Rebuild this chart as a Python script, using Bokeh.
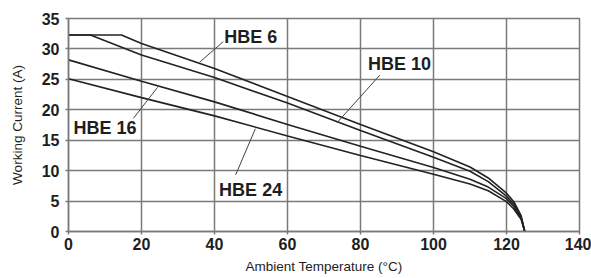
from bokeh.plotting import figure
from bokeh.models import FixedTicker, Range1d
from bokeh.core.properties import value
from bokeh.embed import file_html
from bokeh.resources import INLINE

# Ambient temperature (°C) vs working current (A)
hbe6_t = [0, 14.5, 20, 40, 60, 80, 100, 110, 115, 120, 122, 124, 125]
hbe6_i = [32.3, 32.3, 30.9, 26.8, 22.2, 17.6, 13.1, 10.6, 8.8, 6.3, 4.9, 2.6, 0]

hbe10_t = [0, 6, 20, 40, 60, 80, 100, 110, 115, 120, 122, 124, 125]
hbe10_i = [32.3, 32.3, 29.0, 25.3, 21.1, 16.6, 12.2, 9.9, 8.2, 5.8, 4.5, 2.4, 0]

hbe16_t = [0, 20, 40, 60, 80, 100, 110, 115, 120, 122, 124, 125]
hbe16_i = [28.2, 24.7, 21.3, 17.6, 14.0, 10.5, 8.6, 7.3, 5.4, 4.1, 2.2, 0]

hbe24_t = [0, 20, 40, 60, 80, 100, 110, 115, 120, 122, 124, 125]
hbe24_i = [25.1, 22.0, 19.0, 15.7, 12.5, 9.4, 7.8, 6.7, 4.9, 3.7, 2.0, 0]

x_ticks = [0, 20, 40, 60, 80, 100, 120, 140]
y_ticks = [0, 5, 10, 15, 20, 25, 30, 35]

# curve labels and their leader lines (annotation placement)
label_names = ["HBE 6", "HBE 10", "HBE 16", "HBE 24"]
label_x = [49.9, 90.7, 10.0, 49.9]
label_y = [32.0, 27.6, 17.0, 6.9]
leader_x0 = [42.4, 85.3, 17.8, 45.8]
leader_y0 = [31.2, 25.7, 18.6, 9.3]
leader_x1 = [35.9, 73.6, 24.4, 51.2]
leader_y1 = [27.8, 17.9, 23.7, 16.9]

p = figure(width=591, height=278, output_backend="svg", toolbar_location=None,
           x_range=Range1d(0, 140), y_range=Range1d(0, 35),
           min_border_left=68, min_border_right=12, min_border_top=18, min_border_bottom=47)

grid_color = "#7a7a7a"
p.outline_line_color = grid_color
p.outline_line_width = 1.5

for ax in (p.xaxis[0], p.yaxis[0]):
    ax.major_label_text_font = "Liberation Sans"
    ax.major_label_text_font_style = "bold"
    ax.major_label_text_font_size = "16px"
    ax.major_label_text_color = "#1e1e1e"
    ax.axis_label_text_font = "Liberation Sans"
    ax.axis_label_text_font_style = "normal"
    ax.axis_label_text_font_size = "13.5px"
    ax.axis_label_text_color = "#1e1e1e"
    ax.axis_line_color = grid_color
    ax.axis_line_width = 1.5
    ax.major_tick_line_color = grid_color
    ax.major_tick_line_width = 1.5
    ax.major_tick_out = 3
    ax.major_tick_in = 0
    ax.minor_tick_line_color = None

p.xaxis.ticker = FixedTicker(ticks=x_ticks)
p.yaxis.ticker = FixedTicker(ticks=y_ticks)
p.xaxis.axis_label = "Ambient Temperature (°C)"
p.yaxis.axis_label = "Working Current (A)"
p.xaxis.major_label_standoff = 3
p.yaxis.major_label_standoff = 6
p.xaxis.axis_label_standoff = 6
p.yaxis.axis_label_standoff = 14

p.xgrid.ticker = FixedTicker(ticks=x_ticks)
p.ygrid.ticker = FixedTicker(ticks=y_ticks)
for g in (p.xgrid[0], p.ygrid[0]):
    g.grid_line_color = grid_color
    g.grid_line_alpha = 1.0
    g.grid_line_width = 1.5

curve_color = "#222222"
for t, i in [(hbe6_t, hbe6_i), (hbe10_t, hbe10_i), (hbe16_t, hbe16_i), (hbe24_t, hbe24_i)]:
    p.line(t, i, line_color=curve_color, line_width=1.6)

p.segment(x0=leader_x0, y0=leader_y0, x1=leader_x1, y1=leader_y1,
          line_color="#444444", line_width=1)

p.text(x=label_x, y=label_y, text=label_names,
       text_font=value("Liberation Sans"), text_font_style="bold",
       text_font_size="18px", text_color="#1e1e1e",
       text_align="center", text_baseline="middle")

open("out.html", "w").write(file_html(p, INLINE))
